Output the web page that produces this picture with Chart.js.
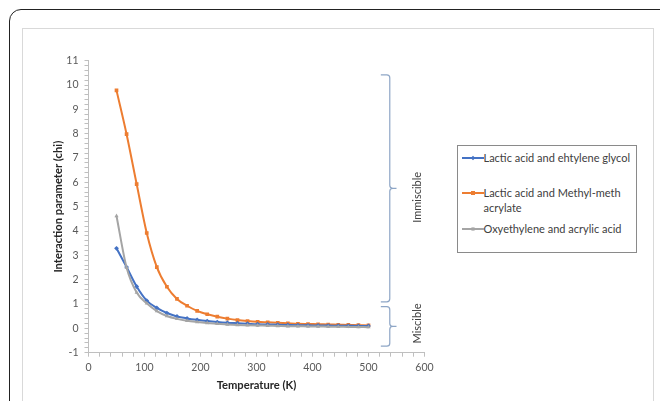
<!DOCTYPE html>
<html>
<head>
<meta charset="utf-8">
<script src="https://cdn.jsdelivr.net/npm/chart.js@4.4.1/dist/chart.umd.min.js"></script>
<style>
  html, body { margin: 0; padding: 0; background: #fff; }
  body { width: 660px; height: 401px; position: relative; overflow: hidden; font-family: Lato, "Open Sans", sans-serif; }
  #outer { position: absolute; left: 8.5px; top: 8.5px; width: 700px; height: 460px; border: 1.5px solid #222; border-radius: 12px; box-sizing: border-box; }
  #inner { position: absolute; left: 21.5px; top: 28px; width: 632px; height: 420px; border: 1.5px solid #d9d9d9; box-sizing: border-box; }
  #c { position: absolute; left: 0; top: 0; }
  #legend { position: absolute; left: 456.5px; top: 145px; width: 180px; height: 108px; border: 1px solid #8a8a8a; box-sizing: border-box; background: #fff; }
  .item { position: absolute; left: 4px; display: flex; align-items: flex-start; }
  .sample { position: relative; width: 22px; height: 15px; flex: none; }
  .sample .ln { position: absolute; left: 0; right: 0; top: 6.5px; height: 2px; }
  .sample .mk { position: absolute; left: 9px; top: 5.5px; width: 4px; height: 4px; }
  .txt { font-size: 11px; line-height: 15px; color: #404040; width: 152px; white-space: normal; }
</style>
</head>
<body>
<div id="outer"></div>
<div id="inner"></div>
<canvas id="c" width="660" height="401"></canvas>
<div id="legend"></div>
<script>
// ---- data ----
const temperatures = [50,68,86,104,122,140,158,176,194,212,230,248,266,284,302,320,338,356,374,392,410,428,446,464,482,500];
const seriesNames = ["Lactic acid and ehtylene glycol", "Lactic acid and Methyl-meth acrylate", "Oxyethylene and acrylic acid"];
const lacticEthyleneGlycol = [3.29,2.52,1.72,1.14,0.84,0.63,0.49,0.41,0.35,0.30,0.26,0.23,0.21,0.19,0.17,0.16,0.15,0.14,0.13,0.125,0.12,0.115,0.11,0.105,0.10,0.10];
const lacticMethylMethacrylate = [9.78,7.98,5.93,3.92,2.52,1.71,1.21,0.93,0.72,0.58,0.48,0.40,0.34,0.30,0.27,0.25,0.23,0.21,0.19,0.18,0.17,0.16,0.15,0.14,0.13,0.12];
const oxyethyleneAcrylic = [4.62,2.50,1.47,1.03,0.71,0.51,0.39,0.31,0.26,0.22,0.19,0.16,0.14,0.13,0.12,0.11,0.10,0.09,0.085,0.08,0.075,0.07,0.065,0.06,0.055,0.05];
const xTickLabels = ["0","100","200","300","400","500","600"];
const yTickLabels = ["-1","0","1","2","3","4","5","6","7","8","9","10","11"];
const regionNames = ["Immiscible", "Miscible"];
const regionFrom = [1.09, -0.73];
const regionTo = [10.42, 0.89];

// ---- chart ----
const colors = ["#4472C4", "#ED7D31", "#A5A5A5"];
const seriesValues = [lacticEthyleneGlycol, lacticMethylMethacrylate, oxyethyleneAcrylic];
const pointStyles = ["rectRot", "rect", "triangle"];
const pointRadii = [2.4, 2.6, 2.4];

const datasets = seriesValues.map((vals, i) => ({
  label: seriesNames[i],
  data: temperatures.map((t, j) => ({ x: t, y: vals[j] })),
  borderColor: colors[i],
  backgroundColor: colors[i],
  borderWidth: 2,
  pointStyle: pointStyles[i],
  pointRadius: pointRadii[i],
  pointBorderWidth: 0,
  cubicInterpolationMode: "monotone",
  fill: false
}));
datasets[0].order = 2; datasets[1].order = 3; datasets[2].order = 1;

function near(v, arr) {
  for (const s of arr) { if (Math.abs(v - Number(s)) < 1e-6) return s; }
  return "";
}

const braces = {
  id: "braces",
  afterDraw(chart, args, opts) {
    const ctx = chart.ctx;
    const xs = chart.scales.x, ys = chart.scales.y;
    const xv = xs.getPixelForValue(opts.lineX);
    const xl = xs.getPixelForValue(opts.hookX);
    const xn = xs.getPixelForValue(opts.nubX);
    const xt = xs.getPixelForValue(opts.textX);
    ctx.save();
    ctx.strokeStyle = "#8EA6C6";
    ctx.lineWidth = 1.2;
    regionNames.forEach((name, i) => {
      const yt = ys.getPixelForValue(regionTo[i]);
      const yb = ys.getPixelForValue(regionFrom[i]);
      const ym = (yt + yb) / 2;
      const r = 3;
      ctx.beginPath();
      ctx.moveTo(xl, yt);
      ctx.lineTo(xv - r, yt);
      ctx.quadraticCurveTo(xv, yt, xv, yt + r);
      ctx.lineTo(xv, ym - r);
      ctx.quadraticCurveTo(xv, ym, xv + r, ym);
      ctx.lineTo(xn, ym);
      ctx.moveTo(xv + r, ym);
      ctx.quadraticCurveTo(xv, ym, xv, ym + r);
      ctx.lineTo(xv, yb - r);
      ctx.quadraticCurveTo(xv, yb, xv - r, yb);
      ctx.lineTo(xl, yb);
      ctx.stroke();
      ctx.save();
      ctx.translate(xt, ym + (i === 0 ? 9 : -3));
      ctx.rotate(-Math.PI / 2);
      ctx.fillStyle = "#404040";
      ctx.font = "11px Lato, 'Open Sans', sans-serif";
      ctx.textAlign = "center";
      ctx.textBaseline = "middle";
      ctx.fillText(name, 0, 0);
      ctx.restore();
    });
    ctx.restore();
  }
};

const tickFont = { family: "Lato, 'Open Sans', sans-serif", size: 10.5 };
const titleFont = { family: "Lato, 'Open Sans', sans-serif", size: 11.2, weight: "bold" };

const chart = new Chart(document.getElementById("c"), {
  type: "line",
  data: { datasets },
  options: {
    responsive: false,
    animation: false,
    layout: { padding: { left: 40, right: 235.5, top: 60.7, bottom: 8.3 } },
    plugins: {
      legend: { display: false },
      tooltip: { enabled: false },
      braces: { lineX: 538, hookX: 522, nubX: 550, textX: 588 }
    },
    scales: {
      x: {
        type: "linear",
        min: 0, max: 600,
        border: { color: "#BFBFBF", width: 1 },
        grid: { drawOnChartArea: false, drawTicks: true, tickLength: 4, color: "#BFBFBF" },
        ticks: {
          stepSize: 20, autoSkip: false, maxRotation: 0, padding: 5,
          color: "#595959", font: tickFont,
          callback: v => near(v, xTickLabels)
        },
        title: { display: true, text: "Temperature (K)", color: "#262626", font: titleFont, padding: { top: 0, bottom: 1 } },
        afterFit: s => { s.height = 40; }
      },
      y: {
        min: -1, max: 11,
        border: { color: "#BFBFBF", width: 1 },
        grid: { drawOnChartArea: false, drawTicks: true, tickLength: 4, color: "#BFBFBF" },
        ticks: {
          stepSize: 0.2, autoSkip: false, padding: 6,
          color: "#595959", font: tickFont,
          callback: v => near(v, yTickLabels)
        },
        title: { display: true, text: "Interaction parameter (chi)", color: "#262626", font: titleFont, padding: { top: 11.5, bottom: 0 } },
        afterFit: s => { s.width = 48.5; }
      }
    }
  },
  plugins: [braces]
});

// ---- HTML legend built from the chart's datasets ----
const legendTops = [4, 39, 75];
const legendEl = document.getElementById("legend");
chart.data.datasets.forEach((ds, i) => {
  const item = document.createElement("div");
  item.className = "item";
  item.style.top = legendTops[i] + "px";
  const sample = document.createElement("div");
  sample.className = "sample";
  const ln = document.createElement("div");
  ln.className = "ln"; ln.style.background = ds.borderColor;
  const mk = document.createElement("div");
  mk.className = "mk"; mk.style.background = ds.borderColor;
  if (ds.pointStyle === "rectRot") { mk.style.transform = "rotate(45deg) scale(0.8)"; }
  if (ds.pointStyle === "triangle") { mk.style.transform = "scale(0.8)"; }
  sample.appendChild(ln); sample.appendChild(mk);
  const txt = document.createElement("div");
  txt.className = "txt";
  txt.textContent = ds.label;
  item.appendChild(sample); item.appendChild(txt);
  legendEl.appendChild(item);
});
</script>
</body>
</html>
